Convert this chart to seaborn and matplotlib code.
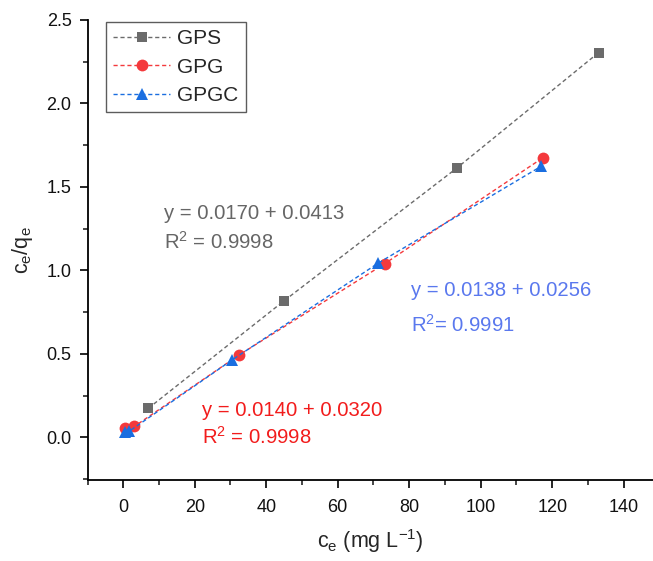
import numpy as np
import pandas as pd
import matplotlib
matplotlib.use("Agg")
import matplotlib.pyplot as plt
import seaborn as sns
from matplotlib.ticker import MultipleLocator

sns.set_style("ticks")
plt.rcParams['font.family'] = ['Liberation Sans', 'DejaVu Sans']
plt.rcParams['mathtext.fontset'] = 'custom'
plt.rcParams['mathtext.rm'] = 'Liberation Sans'
plt.rcParams['mathtext.it'] = 'Liberation Sans'

# Langmuir linearised data: ce (mg/L) vs ce/qe
gps_ce = [7.0, 45.1, 93.3, 133.0]
gps_ratio = [0.174, 0.820, 1.613, 2.305]
gpg_ce = [0.6, 3.1, 32.5, 73.1, 117.4]
gpg_ratio = [0.054, 0.066, 0.495, 1.040, 1.675]
gpgc_ce = [0.4, 1.6, 30.5, 71.4, 117.0]
gpgc_ratio = [0.030, 0.036, 0.465, 1.045, 1.625]

series = ["GPS", "GPG", "GPGC"]
colors = {"GPS": "#6b6b6b", "GPG": "#f4393c", "GPGC": "#1a6ee0"}
markers = {"GPS": "s", "GPG": "o", "GPGC": "^"}
msizes = {"GPS": 7.5, "GPG": 8.5, "GPGC": 9.0}

df = pd.concat([
    pd.DataFrame({"ce": gps_ce, "ratio": gps_ratio, "sample": "GPS"}),
    pd.DataFrame({"ce": gpg_ce, "ratio": gpg_ratio, "sample": "GPG"}),
    pd.DataFrame({"ce": gpgc_ce, "ratio": gpgc_ratio, "sample": "GPGC"}),
])

fig = plt.figure(figsize=(6.53, 5.61), dpi=100)
ax = fig.add_axes([87.5 / 653, 1 - 480 / 561, (653 - 87.5) / 653, (480 - 20) / 561])

for s in series:
    sub = df[df["sample"] == s]
    sns.lineplot(data=sub, x="ce", y="ratio", ax=ax, sort=False,
                 color=colors[s], linestyle=(0, (3, 2)), linewidth=1.0,
                 marker=markers[s], markersize=msizes[s],
                 markeredgewidth=0, label=s)

ax.set_xlim(-10, 148.2)
ax.set_ylim(-0.255, 2.5)
ax.xaxis.set_major_locator(MultipleLocator(20))
ax.xaxis.set_minor_locator(MultipleLocator(10))
ax.yaxis.set_major_locator(MultipleLocator(0.5))
ax.yaxis.set_minor_locator(MultipleLocator(0.25))
ax.tick_params(axis="both", which="major", direction="out", length=6, width=1.2,
               labelsize=13, color="black", labelcolor="#111111")
ax.tick_params(axis="x", which="major", pad=7.5)
ax.tick_params(axis="y", which="major", pad=5.5)
ax.tick_params(axis="both", which="minor", direction="out", length=3.5, width=1.2)
ax.set_xticks([0, 20, 40, 60, 80, 100, 120, 140])
ax.set_yticks([0.0, 0.5, 1.0, 1.5, 2.0, 2.5])
ax.set_yticklabels(["0.0", "0.5", "1.0", "1.5", "2.0", "2.5"])
for side in ["top", "right"]:
    ax.spines[side].set_visible(False)
for side in ["left", "bottom"]:
    ax.spines[side].set_linewidth(1.3)
    ax.spines[side].set_color("black")

ax.set_xlabel(r"c$_\mathregular{e}$ (mg L$^{-1}$)", fontsize=15.5, labelpad=8)
ax.set_ylabel(r"c$_\mathregular{e}$/q$_\mathregular{e}$", fontsize=15.5, labelpad=8)

leg = ax.legend(loc="upper left", bbox_to_anchor=(0.033, 0.996), borderaxespad=0,
                fontsize=15, frameon=True, fancybox=False, edgecolor="#333333",
                handlelength=2.7, borderpad=0.35, labelspacing=0.45,
                handletextpad=0.35)
leg.get_frame().set_linewidth(1.0)

ax.text(11.4, 1.31, "y = 0.0170 + 0.0413", color="#666666", fontsize=14.6)
ax.text(11.4, 1.13, r"R$^\mathregular{2}$ = 0.9998", color="#666666", fontsize=14.6)
ax.text(80.6, 0.845, "y = 0.0138 + 0.0256", color="#5a78ee", fontsize=14.6)
ax.text(80.6, 0.63, r"R$^\mathregular{2}$= 0.9991", color="#5a78ee", fontsize=14.6)
ax.text(22, 0.13, "y = 0.0140 + 0.0320", color="#f21c1c", fontsize=14.6)
ax.text(22, -0.04, r"R$^\mathregular{2}$ = 0.9998", color="#f21c1c", fontsize=14.6)

fig.savefig("out.png", dpi=100)
